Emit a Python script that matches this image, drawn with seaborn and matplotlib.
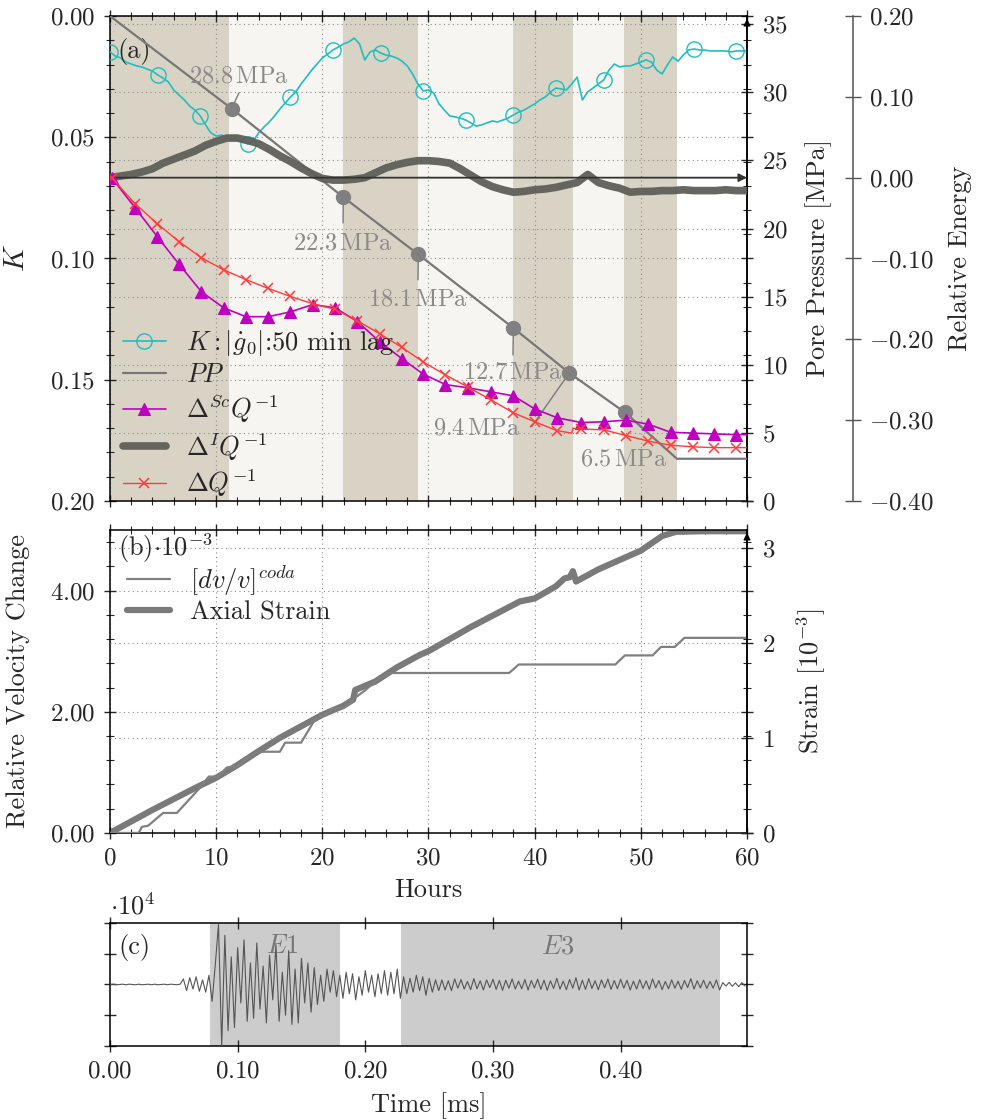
import numpy as np
import matplotlib
matplotlib.use("Agg")
import matplotlib.pyplot as plt
import seaborn as sns
from matplotlib.ticker import MultipleLocator, FuncFormatter, NullFormatter

# ---------------- data ----------------
band_edges = [0.0, 11.2, 21.97, 29.0, 38.0, 43.6, 48.4, 53.4]
band_kinds = ['dark', 'light', 'dark', 'light', 'dark', 'light', 'dark']

k_hours = np.arange(0, 60.01, 0.5)
k_vals = [0.0148, 0.0165, 0.0173, 0.0190, 0.0198, 0.0206, 0.0210, 0.0219, 0.0227, 0.0243,
          0.0256, 0.0272, 0.0305, 0.0326, 0.0346, 0.0371, 0.0388, 0.0412, 0.0449, 0.0482,
          0.0495, 0.0491, 0.0499, 0.0507, 0.0511, 0.0520, 0.0528, 0.0515, 0.0482, 0.0458,
          0.0437, 0.0412, 0.0384, 0.0359, 0.0334, 0.0313, 0.0280, 0.0252, 0.0223, 0.0198,
          0.0173, 0.0157, 0.0140, 0.0128, 0.0115, 0.0107, 0.0091, 0.0115, 0.0181, 0.0148,
          0.0140, 0.0153, 0.0161, 0.0165, 0.0173, 0.0186, 0.0206, 0.0239, 0.0280, 0.0309,
          0.0305, 0.0318, 0.0363, 0.0388, 0.0412, 0.0416, 0.0421, 0.0429, 0.0441, 0.0454,
          0.0449, 0.0441, 0.0433, 0.0437, 0.0429, 0.0421, 0.0408, 0.0396, 0.0388, 0.0375,
          0.0363, 0.0346, 0.0334, 0.0313, 0.0297, 0.0301, 0.0305, 0.0280, 0.0252, 0.0346,
          0.0313, 0.0297, 0.0280, 0.0264, 0.0223, 0.0198, 0.0210, 0.0206, 0.0206, 0.0198,
          0.0190, 0.0181, 0.0190, 0.0223, 0.0239, 0.0202, 0.0169, 0.0186, 0.0161, 0.0140,
          0.0136, 0.0140, 0.0140, 0.0144, 0.0144, 0.0144, 0.0144, 0.0148, 0.0144, 0.0144,
          0.0144]
k_mark_idx = [0, 9, 17, 26, 34, 42, 51, 59, 67, 76, 84, 93, 101, 110, 118]

pp_hours = [0.0, 11.46, 21.98, 29.04, 37.99, 43.26, 48.5, 53.4, 60.0]
pp_vals = [35.6, 28.8, 22.3, 18.1, 12.7, 9.4, 6.5, 3.1, 3.1]
pp_labels = ['28.8', '22.3', '18.1', '12.7', '9.4', '6.5']

energy_hours = np.arange(0, 61, 1)
energy_vals = [0.000, 0.002, 0.004, 0.007, 0.011, 0.018, 0.023, 0.028, 0.033, 0.040, 0.045,
               0.049, 0.049, 0.046, 0.042, 0.035, 0.027, 0.020, 0.012, 0.005, -0.001,
               -0.003, -0.003, -0.002, 0.000, 0.006, 0.012, 0.016, 0.019, 0.021, 0.021,
               0.020, 0.018, 0.011, 0.003, -0.005, -0.011, -0.015, -0.018, -0.017, -0.015,
               -0.014, -0.012, -0.009, -0.006, 0.004, -0.006, -0.010, -0.013, -0.018, -0.017,
               -0.017, -0.016, -0.016, -0.015, -0.016, -0.016, -0.016, -0.015, -0.016, -0.016]

sc_hours = [0.16, 2.35, 4.46, 6.5, 8.6, 10.7, 12.8, 14.9, 17.0, 19.1, 21.2, 23.3, 25.4, 27.5,
            29.5, 31.6, 33.7, 35.9, 38.0, 40.0, 42.1, 44.4, 46.5, 48.6, 50.7, 52.8, 54.9,
            56.9, 59.0, 60.0]
sc_vals = [0.000, -0.037, -0.073, -0.107, -0.141, -0.161, -0.172, -0.172, -0.166, -0.157,
           -0.161, -0.178, -0.203, -0.224, -0.243, -0.256, -0.260, -0.265, -0.270, -0.286,
           -0.297, -0.303, -0.302, -0.300, -0.305, -0.315, -0.316, -0.317, -0.318, -0.318]

dq_hours = [0.16, 2.35, 4.46, 6.5, 8.6, 10.7, 12.8, 14.9, 17.0, 19.1, 21.2, 23.3, 25.4, 27.5,
            29.5, 31.6, 33.7, 35.9, 38.0, 40.0, 42.1, 43.5, 43.6, 44.4, 46.5, 48.6, 50.7,
            52.8, 54.9, 56.9, 59.0, 60.0]
dq_vals = [0.000, -0.032, -0.057, -0.079, -0.099, -0.114, -0.126, -0.137, -0.147, -0.156,
           -0.163, -0.177, -0.193, -0.210, -0.228, -0.244, -0.259, -0.275, -0.291, -0.302,
           -0.313, -0.316, -0.310, -0.311, -0.312, -0.319, -0.326, -0.331, -0.333, -0.334,
           -0.334, -0.334]
dq_mark_idx = list(range(21)) + list(range(23, 31))

strain_hours = [0, 2, 4, 6, 8, 10, 12, 14, 16, 18, 20, 22, 22.9, 23.1, 25, 27, 29.2, 30,
                34, 38.6, 40, 42, 42.8, 43.3, 43.6, 43.9, 46, 50, 52, 53.3, 56, 60]
strain_vals = [0.0, 0.19, 0.38, 0.56, 0.74, 0.91, 1.12, 1.35, 1.57, 1.76, 1.95, 2.10, 2.20,
               2.36, 2.50, 2.73, 2.94, 3.00, 3.40, 3.82, 3.87, 4.07, 4.20, 4.22, 4.32, 4.15,
               4.35, 4.66, 4.90, 4.97, 4.98, 4.98]

dv_hours = [0, 2.7, 3.0, 3.6, 5.0, 6.3, 8.5, 9.3, 10.2, 11.0, 12.0, 13.0, 14.0, 15.0, 16.0,
            16.5, 18.0, 19.3, 20.0, 21.0, 22.0, 23.0, 24.0, 25.0, 26.3, 37.6, 38.5, 47.6,
            48.5, 51.1, 51.9, 53.2, 54.1, 60]
dv_vals = [0, 0, 0.1, 0.12, 0.33, 0.33, 0.75, 0.93, 0.93, 1.08, 1.1, 1.25, 1.34, 1.34, 1.34,
           1.49, 1.49, 1.87, 1.92, 2.05, 2.06, 2.22, 2.35, 2.5, 2.64, 2.64, 2.78, 2.78, 2.93,
           2.93, 3.07, 3.07, 3.22, 3.22]

wave_t = np.arange(200) * 0.0025
wave_vals = [
    0.00, 0.01, -0.01, 0.00, 0.01, -0.01, 0.01, 0.00, -0.01, 0.01, -0.01, 0.00, 0.01, -0.01,
    0.01, -0.01, 0.00, 0.01, -0.01, 0.01, 0.00, -0.01, 0.01,
    0.18, -0.20, 0.22, -0.15, 0.25, -0.22, 0.15, -0.25, 0.30,
    -0.55, 0.65,
    1.95, -2.00, 1.60, -1.50, 0.90, -1.40, 1.20, -0.60, 1.45, -1.20, 0.70, -1.10, 1.35, -0.80,
    0.60, -1.25, 0.95, -0.50, 1.30, -1.20, 0.40, -1.00, 1.10, -1.30, 0.50, -1.25, 0.85, -0.60,
    0.70, -0.90,
    0.55, -0.65, 0.30, -0.55, 0.50, -0.25, 0.45, -0.40,
    0.30, -0.45, 0.40, -0.30, 0.35, -0.50, 0.25, -0.35, 0.45, -0.25, 0.30, -0.40, 0.35, -0.30,
    0.45, -0.35, 0.40, -0.30, 0.50, -0.45,
    0.25, -0.30, 0.20, -0.25, 0.30, -0.20, 0.25, -0.35, 0.20, -0.25, 0.15, -0.20,
    0.15, -0.18, 0.12, -0.20, 0.18, -0.12, 0.16, -0.15,
    0.10, -0.17, 0.19, -0.14, 0.12, -0.18, 0.15, -0.10,
    0.17, -0.16, 0.13, -0.19, 0.14, -0.12, 0.18, -0.15,
    0.11, -0.14, 0.16, -0.18, 0.13, -0.11, 0.17, -0.16,
    0.14, -0.19, 0.12, -0.13, 0.20, -0.15, 0.11, -0.17,
    0.16, -0.12, 0.22, -0.18, 0.14, -0.16, 0.19, -0.13,
    0.12, -0.17, 0.15, -0.11, 0.18, -0.16, 0.13, -0.14,
    0.17, -0.12, 0.14, -0.18, 0.11, -0.15, 0.16, -0.13,
    0.12, -0.16, 0.18, -0.11, 0.13, -0.17, 0.10, -0.14,
    0.15, -0.12, 0.11, -0.16, 0.13, -0.10, 0.19, -0.15,
    0.12, -0.11, 0.14, -0.13, 0.10, -0.12, 0.15, -0.18,
    0.06, -0.05, 0.07, -0.06, 0.05, -0.07, 0.06, -0.05]
e_windows = [(0.078, 0.18, '$E1$', 0.135), (0.228, 0.478, '$E3$', 0.351)]

# ---------------- style ----------------
sns.set_style("ticks")
plt.rcParams['font.family'] = ['cmr10', 'DejaVu Serif']
plt.rcParams['mathtext.fontset'] = 'cm'
plt.rcParams['axes.formatter.use_mathtext'] = True
plt.rcParams['axes.unicode_minus'] = True
plt.rcParams['axes.edgecolor'] = 'black'
plt.rcParams['axes.linewidth'] = 1.1

FS_TICK = 18
FS_LAB = 19
FS_LEG = 19
DARK = '#d8d3c4'
LIGHT = '#f6f5f1'
GRIDKW = dict(linestyle=(0, (1, 3)), color='#8c8c8c', linewidth=0.8)


def fmt(nd):
    def f(v, p):
        if abs(v) < 1e-9:
            v = 0.0
        return f"${v:.{nd}f}$"
    return FuncFormatter(f)


def style_ticks(ax, **kw):
    ax.tick_params(which='major', direction='inout', length=9, width=1.0,
                   labelsize=FS_TICK, pad=6, **kw)
    ax.tick_params(which='minor', direction='inout', length=6, width=0.8, **kw)


fig = plt.figure(figsize=(9.82, 11.2), dpi=100)

# ---------------- panel (a) ----------------
axA = fig.add_axes([0.1120, 0.5527, 0.6487, 0.4330])
axPP = axA.twinx()
axE = axA.twinx()
axE.spines['right'].set_position(('axes', 1.1664))

for (a, b), kind in zip(zip(band_edges[:-1], band_edges[1:]), band_kinds):
    axA.axvspan(a, b, color=DARK if kind == 'dark' else LIGHT, lw=0, zorder=0)

axA.set_xlim(0, 60)
axA.set_ylim(0.2, 0.0)
axA.xaxis.set_major_locator(MultipleLocator(10))
axA.xaxis.set_minor_locator(MultipleLocator(2))
axA.yaxis.set_major_locator(MultipleLocator(0.05))
axA.yaxis.set_minor_locator(MultipleLocator(0.01))
axA.yaxis.set_major_formatter(fmt(2))
axA.set_axisbelow(True)
axA.grid(True, which='major', **GRIDKW)
style_ticks(axA, top=True, right=True)
axA.tick_params(axis='x', labelbottom=False)

sns.lineplot(x=k_hours, y=k_vals, ax=axA, color='#1fbfbf', lw=1.2, marker='o',
             markersize=11, markerfacecolor='none', markeredgecolor='#1fbfbf',
             markeredgewidth=1.0, markevery=k_mark_idx, estimator=None, sort=False,
             legend=False, label=r"$K:|\dot{g}_0|$:50 min lag", zorder=3)

# pore pressure axis
axPP.set_ylim(0, 35.6)
axPP.yaxis.set_major_locator(MultipleLocator(5))
axPP.yaxis.set_major_formatter(fmt(0))
axPP.grid(True, axis='y', which='major', **GRIDKW)
axPP.set_xlim(0, 60)
for s in ['left', 'top', 'bottom']:
    axPP.spines[s].set_visible(False)
style_ticks(axPP)
sns.lineplot(x=pp_hours, y=pp_vals, ax=axPP, color='#777777', lw=1.6,
             estimator=None, sort=False, legend=False, label='$PP$', zorder=3)
axPP.plot(pp_hours[1:7], pp_vals[1:7], ls='none', marker='o', ms=10, color='#808080', zorder=4)

label_xy = [(12.15, 31.13), (21.95, 18.94), (29.01, 14.76), (37.96, 9.40), (34.57, 5.29), (48.41, 3.08)]
conn_end = [(12.15, 29.96), (21.95, 20.41), (29.01, 16.23), (37.96, 10.72), (39.72, 5.46), (50.6, 5.1)]
for lab, (tx, ty), (cx, cy), hx, hy in zip(pp_labels, label_xy, conn_end, pp_hours[1:7], pp_vals[1:7]):
    axPP.annotate('', xy=(hx, hy), xytext=(cx, cy),
                  arrowprops=dict(arrowstyle='-', color='#7a7a7a', lw=1.0, shrinkA=0, shrinkB=0))
    axPP.text(tx, ty, lab + r"$\,$MPa", color='#8a8a8a', fontsize=17.5, ha='center', va='center', zorder=5)

axPP.annotate('', xy=(1.0, 1.0), xycoords='axes fraction', xytext=(1.0, 0.97),
              arrowprops=dict(arrowstyle='-|>', color='black', lw=1.0, mutation_scale=10))
axPP.set_ylabel('Pore Pressure [MPa]', fontsize=FS_LAB)
axPP.yaxis.set_label_coords(1.0911, 0.5)

# relative energy axis
axE.set_ylim(-0.4, 0.2)
axE.set_xlim(0, 60)
axE.yaxis.set_major_locator(MultipleLocator(0.1))
axE.yaxis.set_major_formatter(fmt(2))
for s in ['left', 'top', 'bottom']:
    axE.spines[s].set_visible(False)
axE.spines['right'].set_color('#555555')
axE.tick_params(which='major', direction='inout', length=11, width=1.0, color='#555555',
                labelsize=FS_TICK, pad=6)
axE.set_ylabel('Relative Energy', fontsize=FS_LAB)
axE.yaxis.set_label_coords(1.3155, 0.5)

sns.lineplot(x=energy_hours, y=energy_vals, ax=axE, color='#5f5f5a', lw=5.5, alpha=0.95,
             estimator=None, sort=False, legend=False, label=r"$\Delta^{I}Q^{-1}$", zorder=2)
axE.annotate('', xy=(60, 0), xytext=(0, 0),
             arrowprops=dict(arrowstyle='-|>', color='#333333', lw=1.3, mutation_scale=12,
                             shrinkA=0, shrinkB=0), zorder=3)
sns.lineplot(x=sc_hours, y=sc_vals, ax=axE, color='#bf00bf', lw=1.2, marker='^', ms=8,
             markeredgecolor='#bf00bf', markerfacecolor='#bf00bf', markeredgewidth=0.8,
             markevery=list(range(29)), estimator=None, sort=False, legend=False,
             label=r"$\Delta^{Sc}Q^{-1}$", zorder=4)
sns.lineplot(x=dq_hours, y=dq_vals, ax=axE, color='#ff3b3b', lw=1.0, marker='x', ms=7,
             markeredgecolor='#ff3b3b', markeredgewidth=1.1, markevery=dq_mark_idx,
             estimator=None, sort=False, legend=False, label=r"$\Delta Q^{-1}$", zorder=5)

axA.set_ylabel('$K$', fontsize=FS_LAB + 2)
axA.yaxis.set_label_coords(-0.1256, 0.5)
axA.text(0.0377, 0.926, '(a)', transform=axA.transAxes, fontsize=FS_LEG, ha='center', va='center', zorder=6)

hK = axA.get_lines()[0]
hP = axPP.get_lines()[0]
eL = axE.get_lines()
hI, hSc, hQ = eL[0], eL[1], eL[2]
leg = axE.legend([hK, hP, hSc, hI, hQ], [h.get_label() for h in [hK, hP, hSc, hI, hQ]],
                 loc='upper left', bbox_to_anchor=(0.02, 0.356), frameon=False, fontsize=FS_LEG,
                 handlelength=1.65, handletextpad=0.75, labelspacing=0.19, borderpad=0,
                 borderaxespad=0, numpoints=1)

# ---------------- panel (b) ----------------
axB = fig.add_axes([0.1120, 0.2563, 0.6487, 0.2705])
axS = axB.twinx()
axB.set_xlim(0, 60)
axB.set_ylim(0, 5.0)
axB.xaxis.set_major_locator(MultipleLocator(10))
axB.xaxis.set_minor_locator(MultipleLocator(2))
axB.yaxis.set_major_locator(MultipleLocator(2))
axB.yaxis.set_minor_locator(MultipleLocator(0.4))
axB.yaxis.set_major_formatter(fmt(2))
axB.xaxis.set_major_formatter(fmt(0))
axB.grid(True, which='major', **GRIDKW)
style_ticks(axB, top=True, right=True)

sns.lineplot(x=dv_hours, y=dv_vals, ax=axB, color='#808080', lw=1.6, estimator=None,
             sort=False, legend=False, label=r"$[dv/v]^{coda}$", zorder=3)
sns.lineplot(x=strain_hours, y=strain_vals, ax=axB, color='#7a7a7a', lw=4.5, estimator=None,
             sort=False, legend=False, label='Axial Strain', zorder=2)
axB.legend(loc='upper left', bbox_to_anchor=(0.026, 0.89), frameon=False, fontsize=FS_LEG,
           handlelength=1.65, handletextpad=0.75, labelspacing=0.1, borderpad=0, borderaxespad=0)
axB.text(0.0126, 0.94, r"(b)$\cdot10^{-3}$", transform=axB.transAxes, fontsize=FS_LEG,
         ha='left', va='center')
axB.set_ylabel('Relative Velocity Change', fontsize=FS_LAB)
axB.yaxis.set_label_coords(-0.1256, 0.5)
axB.set_xlabel('Hours', fontsize=FS_LAB)
axB.xaxis.set_label_coords(0.5, -0.15)

axS.set_ylim(0, 3.19)
axS.set_xlim(0, 60)
axS.yaxis.set_major_locator(MultipleLocator(1))
axS.yaxis.set_major_formatter(fmt(0))
axS.grid(True, axis='y', which='major', **GRIDKW)
for s in ['left', 'top', 'bottom']:
    axS.spines[s].set_visible(False)
style_ticks(axS)
axS.annotate('', xy=(1.0, 1.0), xycoords='axes fraction', xytext=(1.0, 0.95),
             arrowprops=dict(arrowstyle='-|>', color='black', lw=1.0, mutation_scale=10))
axS.set_ylabel(r'Strain [$10^{-3}$]', fontsize=FS_LAB)
axS.yaxis.set_label_coords(1.0754, 0.5)

# ---------------- panel (c) ----------------
axC = fig.add_axes([0.1120, 0.0661, 0.6487, 0.1098])
axC.set_xlim(0, 0.499)
axC.set_ylim(-2, 2)
for a, b, lab, xc in e_windows:
    axC.axvspan(a, b, color='#cccccc', lw=0, zorder=0)
    axC.text(xc, 1.24, lab, color='#777777', fontsize=FS_LEG, ha='center', va='center')
sns.lineplot(x=wave_t, y=wave_vals, ax=axC, color='#555555', lw=0.8, estimator=None,
             sort=False, legend=False, zorder=3)
axC.xaxis.set_major_locator(MultipleLocator(0.1))
axC.xaxis.set_major_formatter(fmt(2))
axC.yaxis.set_major_locator(MultipleLocator(1))
axC.yaxis.set_major_formatter(NullFormatter())
style_ticks(axC, top=True, right=True)
axC.text(0.0377, 0.8, '(c)', transform=axC.transAxes, fontsize=FS_LEG, ha='center', va='center')
axC.text(0.0, 1.03, r"$\cdot10^{4}$", transform=axC.transAxes, fontsize=FS_LEG, ha='left', va='bottom')
axC.set_xlabel('Time [ms]', fontsize=FS_LAB)
axC.xaxis.set_label_coords(0.5, -0.38)
axC.set_ylabel('')

fig.savefig('out.png', dpi=100)
